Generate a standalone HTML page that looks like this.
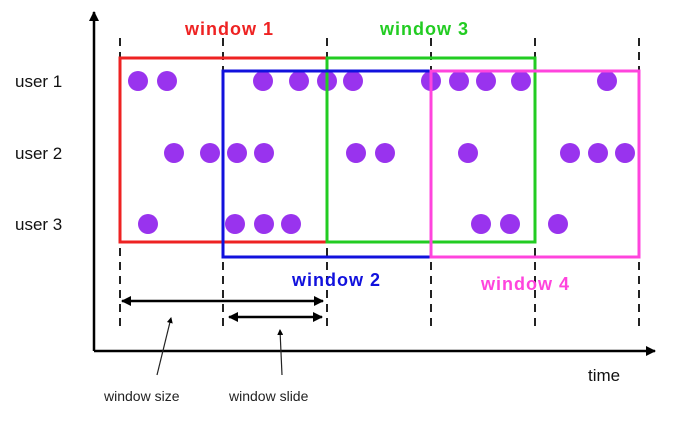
<!DOCTYPE html>
<html><head><meta charset="utf-8"><style>
html,body{margin:0;padding:0;background:#fff;}
svg{display:block;}
text{font-family:"Liberation Sans",Arial,sans-serif;}
</style></head><body>
<svg width="698" height="429" viewBox="0 0 698 429" xmlns="http://www.w3.org/2000/svg">
<defs>
<marker id="ah" markerWidth="10" markerHeight="10" refX="9" refY="5" orient="auto-start-reverse" markerUnits="userSpaceOnUse"><path d="M0,0 L10,5 L0,10 z" fill="#000"/></marker>
<marker id="as" markerWidth="6" markerHeight="6" refX="5" refY="3" orient="auto" markerUnits="userSpaceOnUse"><path d="M0,0 L6,3 L0,6 z" fill="#000"/></marker>
</defs>
<g stroke="#222" stroke-width="2" stroke-dasharray="8,6">
<line x1="120" y1="38" x2="120" y2="332"/>
<line x1="223" y1="38" x2="223" y2="332"/>
<line x1="327" y1="38" x2="327" y2="332"/>
<line x1="431" y1="38" x2="431" y2="332"/>
<line x1="535" y1="38" x2="535" y2="332"/>
<line x1="639" y1="38" x2="639" y2="332"/>
</g>
<g fill="#9933ee">
<circle cx="138" cy="81" r="10"/><circle cx="167" cy="81" r="10"/><circle cx="263" cy="81" r="10"/><circle cx="299" cy="81" r="10"/><circle cx="327" cy="81" r="10"/><circle cx="353" cy="81" r="10"/><circle cx="431" cy="81" r="10"/><circle cx="459" cy="81" r="10"/><circle cx="486" cy="81" r="10"/><circle cx="521" cy="81" r="10"/><circle cx="607" cy="81" r="10"/>
<circle cx="174" cy="153" r="10"/><circle cx="210" cy="153" r="10"/><circle cx="237" cy="153" r="10"/><circle cx="264" cy="153" r="10"/><circle cx="356" cy="153" r="10"/><circle cx="385" cy="153" r="10"/><circle cx="468" cy="153" r="10"/><circle cx="570" cy="153" r="10"/><circle cx="598" cy="153" r="10"/><circle cx="625" cy="153" r="10"/>
<circle cx="148" cy="224" r="10"/><circle cx="235" cy="224" r="10"/><circle cx="264" cy="224" r="10"/><circle cx="291" cy="224" r="10"/><circle cx="481" cy="224" r="10"/><circle cx="510" cy="224" r="10"/><circle cx="558" cy="224" r="10"/>
</g>
<g fill="none" stroke-width="3">
<rect x="120" y="58" width="207" height="184" stroke="#ee2222"/>
<rect x="327" y="58" width="208" height="184" stroke="#22cc22"/>
<rect x="223" y="71" width="208" height="186" stroke="#1111dd"/>
<rect x="431" y="71" width="208" height="186" stroke="#ff44dd"/>
</g>
<line x1="94" y1="351" x2="94" y2="12" stroke="#000" stroke-width="2.5" marker-end="url(#ah)"/>
<line x1="94" y1="351" x2="655" y2="351" stroke="#000" stroke-width="2.5" marker-end="url(#ah)"/>
<g font-weight="bold" font-size="18" letter-spacing="1">
<text x="185" y="35" fill="#ee2222">window 1</text>
<text x="380" y="35" fill="#22cc22">window 3</text>
<text x="292" y="286" fill="#1111dd">window 2</text>
<text x="481" y="290" fill="#ff44dd">window 4</text>
</g>
<g font-size="17" fill="#111">
<text x="15" y="87">user 1</text>
<text x="15" y="159">user 2</text>
<text x="15" y="230">user 3</text>
<text x="588" y="381">time</text>
</g>
<g font-size="14" fill="#222">
<text x="104" y="401">window size</text>
<text x="229" y="401">window slide</text>
</g>
<line x1="122" y1="301" x2="323" y2="301" stroke="#000" stroke-width="2.5" marker-start="url(#ah)" marker-end="url(#ah)"/>
<line x1="229" y1="317" x2="322" y2="317" stroke="#000" stroke-width="2.5" marker-start="url(#ah)" marker-end="url(#ah)"/>
<line x1="157" y1="375" x2="171" y2="318" stroke="#222" stroke-width="1.2" marker-end="url(#as)"/>
<line x1="282" y1="375" x2="280" y2="330" stroke="#222" stroke-width="1.2" marker-end="url(#as)"/>
</svg>
</body></html>
